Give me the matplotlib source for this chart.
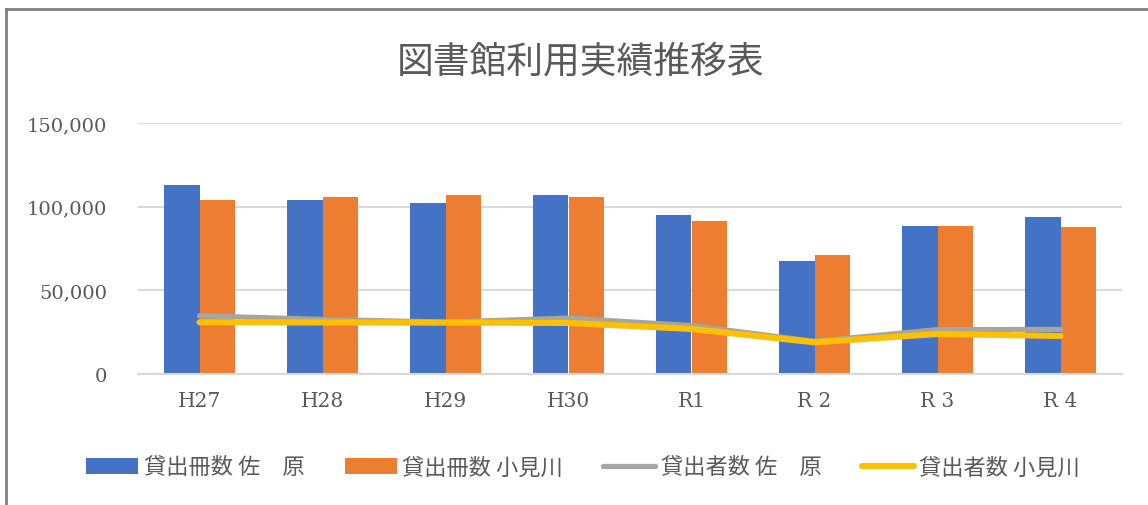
import numpy as np
import matplotlib
matplotlib.use('Agg')
import matplotlib.pyplot as plt
from matplotlib.lines import Line2D

plt.rcParams['font.family'] = ['Noto Sans CJK JP', 'DejaVu Sans']

categories = ['H27', 'H28', 'H29', 'H30', 'R1', 'R 2', 'R 3', 'R 4']
books_sawara = [112900, 104200, 102000, 106800, 94800, 67700, 88500, 93800]
books_omigawa = [103800, 105900, 106800, 105800, 91600, 71100, 88500, 87800]
users_sawara = [34800, 32600, 31000, 33400, 28900, 19500, 26500, 26600]
users_omigawa = [30900, 30800, 30700, 30500, 26900, 18900, 23900, 22700]
labels = ['貸出冊数 佐\u3000原', '貸出冊数 小見川', '貸出者数 佐\u3000原', '貸出者数 小見川']

W, H = 1148, 506
fig = plt.figure(figsize=(W / 100, H / 100), dpi=100)
ax = fig.add_axes([138 / W, 1 - 375 / H, 984 / W, 251 / H])

x = np.arange(len(categories))
bw = 0.29
b1 = ax.bar(x - bw / 2, books_sawara, bw, color='#4472C4', zorder=2, label=labels[0])
b2 = ax.bar(x + bw / 2, books_omigawa, bw, color='#ED7D31', zorder=2, label=labels[1])
l1, = ax.plot(x, users_sawara, color='#A5A5A5', lw=3.8, zorder=3,
              solid_capstyle='round', label=labels[2])
l2, = ax.plot(x, users_omigawa, color='#FFC000', lw=4.4, zorder=4,
              solid_capstyle='round', label=labels[3])

ax.set_xlim(-0.5, len(categories) - 0.5)
ax.set_ylim(0, 150000)
ax.set_yticks([0, 50000, 100000, 150000])
ax.set_yticklabels(['{:,}'.format(v) for v in [0, 50000, 100000, 150000]],
                   family='DejaVu Serif', fontsize=14, color='#595959')
ax.set_xticks(x)
ax.set_xticklabels(categories, family='DejaVu Serif', fontsize=14.5, color='#595959')
ax.tick_params(axis='y', length=0, pad=22)
ax.tick_params(axis='x', length=0, pad=12)
ax.grid(axis='y', color='#D9D9D9', lw=1.5, zorder=0)
for s in ['top', 'right', 'left']:
    ax.spines[s].set_visible(False)
ax.spines['bottom'].set_color('#D9D9D9')
ax.spines['bottom'].set_linewidth(1.5)

fig.text(0.506, 1 - 62 / H, '図書館利用実績推移表', ha='center', va='center',
         fontsize=26.5, color='#595959')

fig.legend(handles=[b1, b2, l1, l2], loc='center', bbox_to_anchor=(0.508, 1 - 468 / H),
           ncol=4, frameon=False, fontsize=16, handlelength=2.35, handletextpad=0.25,
           columnspacing=1.8, labelcolor='#595959')

# chart border (top and left edges visible)
fig.add_artist(Line2D([6 / W, 1], [1 - 9.5 / H, 1 - 9.5 / H], color='#7F7F7F', lw=2))
fig.add_artist(Line2D([6 / W, 6 / W], [0, 1 - 9.5 / H], color='#7F7F7F', lw=2))

fig.savefig('out.png', dpi=100)
